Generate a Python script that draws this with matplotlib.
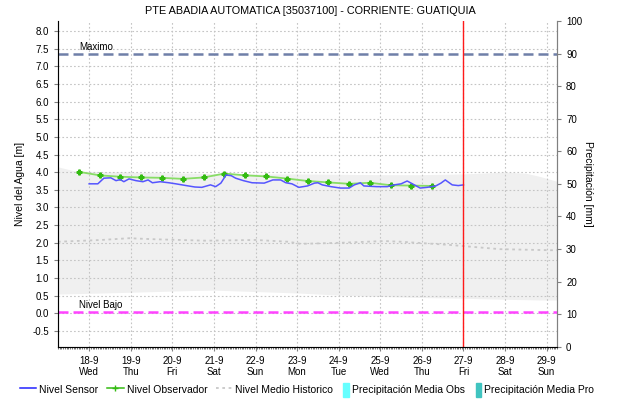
import matplotlib
matplotlib.use("Agg")
import matplotlib.pyplot as plt
import matplotlib.dates as mdates
from matplotlib.lines import Line2D
from matplotlib.patches import Patch
from matplotlib.ticker import MultipleLocator, FormatStrFormatter, FuncFormatter
import pandas as pd

plt.rcParams['font.family'] = ['Liberation Sans', 'DejaVu Sans']

inicio = pd.Timestamp('2024-09-18 00:00')
hoy = pd.Timestamp('2024-09-27 00:00')

# Nivel sensor (horas desde 18-9 00:00, metros)
sensor_h = [0, 5, 8.5, 12.5, 15.5, 18, 20, 23, 27, 31, 34, 36.5, 41, 46, 50, 56,
            61, 65, 70, 73, 76, 79, 82, 84.5, 89, 94, 101, 106, 110.5, 113.5, 117,
            121, 126, 130, 132, 134.5, 139.5, 145, 150, 153, 156.5, 158.5, 166,
            172, 176, 180, 183.5, 186.5, 191, 195, 200, 203, 205.5, 209.5, 213, 216]
sensor_v = [3.67, 3.67, 3.83, 3.84, 3.76, 3.79, 3.73, 3.81, 3.76, 3.73, 3.78, 3.70,
            3.73, 3.70, 3.67, 3.62, 3.58, 3.57, 3.64, 3.59, 3.69, 3.92, 3.90, 3.83,
            3.76, 3.70, 3.69, 3.78, 3.78, 3.70, 3.67, 3.57, 3.61, 3.69, 3.70, 3.64,
            3.59, 3.55, 3.55, 3.64, 3.70, 3.61, 3.59, 3.59, 3.64, 3.67, 3.75, 3.67,
            3.55, 3.57, 3.61, 3.69, 3.78, 3.64, 3.62, 3.64]

# Lecturas del observador (06:00 y 18:00)
obs_h = [-6, 6, 18, 30, 42, 54, 66, 78, 90, 102, 114, 126, 138, 150, 162, 174, 186, 198]
obs_v = [4.01, 3.91, 3.87, 3.85, 3.84, 3.81, 3.85, 3.96, 3.91, 3.88, 3.82, 3.75,
         3.71, 3.67, 3.70, 3.63, 3.62, 3.61]

# Nivel medio historico
hist_h = [-18, 7, 23, 38, 67, 96, 115, 122, 145, 170, 180, 208, 237, 266, 270]
hist_v = [2.03, 2.08, 2.13, 2.10, 2.06, 2.08, 2.03, 1.97, 2.00, 2.05, 2.03, 1.94,
          1.82, 1.79, 1.79]

# Banda historica (minimo / maximo)
banda_h = [-18, -8, 24, 60, 72, 96, 120, 144, 168, 192, 216, 240, 252, 260, 270]
banda_sup = [4.15, 4.03, 4.00, 3.97, 3.96, 3.95, 3.95, 3.94, 3.93, 3.93, 3.95,
             4.00, 3.97, 3.88, 3.74]
banda_inf = [0.55, 0.56, 0.60, 0.65, 0.66, 0.62, 0.58, 0.52, 0.48, 0.45, 0.43,
             0.40, 0.39, 0.38, 0.38]

nivel_maximo = 7.35
nivel_bajo = 0.03


def a_fechas(horas):
    return [inicio + pd.Timedelta(hours=h) for h in horas]


def etiqueta_dia(x, pos):
    d = mdates.num2date(x)
    return '{}-{}\n{}'.format(d.day, d.month, d.strftime('%a'))


fig = plt.figure(figsize=(6.2, 4.04), dpi=100)
ax = fig.add_axes([0.0935, 0.142, 0.805, 0.806])

ax.fill_between(a_fechas(banda_h), banda_inf, banda_sup, color='#f0f0f0', lw=0, zorder=0)
ax.plot(a_fechas(hist_h), hist_v, color='#c8c8c8', lw=1.3, ls=(0, (1.5, 2)), zorder=2)
ax.plot(a_fechas(obs_h), obs_v, color='#88dd66', lw=1.3, marker='P', ms=3.5,
        mfc='#33bb11', mec='#33bb11', zorder=3)
ax.plot(a_fechas(sensor_h), sensor_v, color='#5555ff', lw=1.1, zorder=4)

ax.axhline(nivel_maximo, color='#6f7fa8', lw=1.8, ls=(0, (4, 2)), zorder=3)
ax.axhline(nivel_bajo, color='#ff44ff', lw=1.8, ls=(0, (4, 2)), zorder=3)
ax.text(a_fechas([-6])[0], nivel_maximo + 0.06, 'Maximo', fontsize=7, va='bottom')
ax.text(a_fechas([-6])[0], nivel_bajo + 0.06, 'Nivel Bajo', fontsize=7, va='bottom')
ax.axvline(hoy, color='#ff1a1a', lw=1.0, zorder=5)

ax.set_xlim(inicio - pd.Timedelta(hours=18), inicio + pd.Timedelta(hours=270))
ax.set_ylim(-0.94, 8.28)
ax.yaxis.set_major_locator(MultipleLocator(0.5))
ax.yaxis.set_major_formatter(FormatStrFormatter('%.1f'))
ax.xaxis.set_major_locator(mdates.DayLocator())
ax.xaxis.set_minor_locator(mdates.HourLocator())
ax.xaxis.set_major_formatter(FuncFormatter(etiqueta_dia))

ax.grid(True, which='major', color='#c4c4c4', ls=(0, (1.5, 2)), lw=0.8)
ax.tick_params(axis='both', which='major', labelsize=7, length=3, color='#808080')
ax.tick_params(axis='x', which='minor', length=1.5, color='#606060')
ax.set_ylabel('Nivel del Agua [m]', fontsize=7.5, labelpad=5)
for lado in ['left', 'bottom', 'right']:
    ax.spines[lado].set_color('#808080')
ax.spines['top'].set_visible(False)

ax2 = ax.twinx()
ax2.set_ylim(0, 100)
ax2.yaxis.set_major_locator(MultipleLocator(10))
ax2.tick_params(labelsize=7, length=3, color='#808080')
ax2.set_ylabel('Precipitación [mm]', fontsize=7.5, rotation=270, labelpad=8)
ax2.spines['top'].set_visible(False)
ax2.spines['right'].set_color('#808080')

fig.suptitle('PTE ABADIA AUTOMATICA [35037100] - CORRIENTE: GUATIQUIA',
             fontsize=7.8, y=0.985)

leyenda = dict(loc='lower left', frameon=False, fontsize=7.5, handleheight=1.6,
               handletextpad=0.3, borderaxespad=0.3)

# Leyenda de niveles (lineas)
lineas = [
    Line2D([], [], color='#2222ff', lw=1.1),
    Line2D([], [], color='#33bb11', lw=1.1, marker='+', ms=4),
    Line2D([], [], color='#c8c8c8', lw=1.3, ls=(0, (1.5, 2))),
]
fig.legend(lineas, ['Nivel Sensor', 'Nivel Observador', 'Nivel Medio Historico'],
           bbox_to_anchor=(0.02, 0.0), ncol=3, handlelength=1.6, columnspacing=0.8,
           **leyenda)

# Leyenda de precipitacion (barras)
barras = [Patch(color='#66ffff'), Patch(color='#40c4c0')]
fig.legend(barras, ['Precipitación Media Obs', 'Precipitación Media Pro'],
           bbox_to_anchor=(0.542, 0.0), ncol=2, handlelength=0.5, columnspacing=1.1,
           **leyenda)

fig.savefig('out.png', dpi=100)
